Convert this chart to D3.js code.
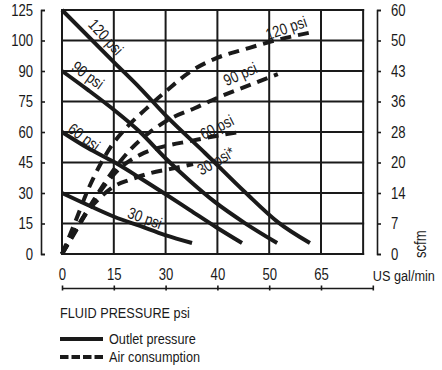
<!DOCTYPE html>
<html>
<head>
<meta charset="utf-8">
<script src="https://cdn.jsdelivr.net/npm/d3@7"></script>
<style>
  html, body { margin: 0; padding: 0; background: #fff; }
  svg { display: block; }
  text { font-family: "Liberation Sans", Arial, sans-serif; fill: #1a1a1a; }
</style>
</head>
<body>
<script>
// ---------- data ----------
const xTicks = [0, 15, 30, 40, 50, 65];          // US gal/min
const xAxisEnd = 80;
const xGridEnd = 77.2;
const yLeftTicks = [0, 15, 30, 45, 60, 75, 90, 100, 125];   // psi
const yRightTicks = [0, 7, 14, 20, 28, 36, 43, 50, 60];     // scfm

// Outlet pressure (psi) vs flow (US gal/min)
const outlet120 = [[0,125],[15.3,92.6],[22.6,81.6],[30.3,67.4],[37.6,49.7],[45.3,30.5],[52.5,15.7],[61.8,5.4]];
const outlet90  = [[0,90],[7.5,80.7],[15.1,70.8],[22.6,60.0],[29.9,47.2],[34.7,35.9],[39.5,25.6],[45.3,15.2],[52.3,5.4]];
const outlet60  = [[0,60],[7.5,52.1],[15.1,45.2],[22.6,37.4],[29.9,29.5],[34.7,21.6],[39.7,13.3],[44.75,5.4]];
const outlet30  = [[0,30],[8.1,23.6],[15.3,18.2],[22.6,13.8],[29.9,9.3],[35.1,5.4]];

// Air consumption (scfm) vs flow (US gal/min)
const air120 = [[0,0],[3.8,7.3],[7.5,14.6],[11.0,19.5],[14.5,24.6],[18.5,29.0],[24.0,33.8],[29.9,38.2],[34.7,42.8],[39.9,46.0],[45.3,48.0],[50.2,49.7],[62.7,52.8]];
const air90  = [[0,0],[4.6,6.4],[9.6,12.9],[14.5,18.1],[19.7,23.3],[25.5,28.0],[31.2,31.7],[35.7,34.3],[39.9,36.8],[46.3,39.8],[52.5,42.3]];
const air60  = [[0,0],[3.8,5.0],[8.1,10.8],[12.5,15.6],[16.8,18.9],[22.6,22.0],[29.9,24.3],[34.7,25.6],[39.5,26.9],[44.4,28.0]];
const air30  = [[0,0],[2.9,4.1],[6.7,9.0],[11.0,12.9],[15.3,15.4],[19.7,16.6],[25.5,17.9],[30.8,18.7],[35.3,19.7]];

const outletSeries = [outlet120, outlet90, outlet60, outlet30];
const airSeries = [air120, air90, air60, air30];
const outletNames = ["120 psi", "90 psi", "60 psi", "30 psi"];
const airNames = ["120 psi", "90 psi", "60 psi", "30 psi*"];

// ---------- layout ----------
const W = 442, H = 370;
const plotLeft = 62, colStep = 51.8;
const plotBottom = 254, rowStep = 30.5;
const narrow = 0.82;   // condensed look

const svg = d3.select("body").append("svg").attr("width", W).attr("height", H);

const xDomain = xTicks.concat([xAxisEnd]);
const x = d3.scaleLinear().domain(xDomain).range(xDomain.map((d, i) => plotLeft + i * colStep));
const yL = d3.scaleLinear().domain(yLeftTicks).range(yLeftTicks.map((d, i) => plotBottom - i * rowStep));
const yR = d3.scaleLinear().domain(yRightTicks).range(yRightTicks.map((d, i) => plotBottom - i * rowStep));

const ink = "#1a1a1a";

// grid
const grid = svg.append("g").attr("stroke", ink).attr("stroke-width", 2);
yLeftTicks.forEach(t => {
  grid.append("line").attr("x1", x(0) - 1).attr("x2", x(xGridEnd) + 1)
    .attr("y1", yL(t)).attr("y2", yL(t));
});
xTicks.concat([xGridEnd]).forEach(t => {
  grid.append("line").attr("x1", x(t)).attr("x2", x(t))
    .attr("y1", yL(0) + 1).attr("y2", yL(125) - 1);
});

// left axis
const leftAxis = svg.append("g").attr("transform", "translate(41,0)")
  .call(d3.axisLeft(yL).tickValues(yLeftTicks).tickSize(-4).tickPadding(8));
// right axis
const rightAxis = svg.append("g").attr("transform", "translate(377,0)")
  .call(d3.axisRight(yR).tickValues(yRightTicks).tickSize(4).tickPadding(10));
[leftAxis, rightAxis].forEach(g => {
  g.select(".domain").attr("stroke", ink).attr("stroke-width", 1.6);
  g.selectAll(".tick line").attr("stroke", ink).attr("stroke-width", 1.6);
  g.selectAll("text").attr("font-size", 16);
});

// bottom axis (labels above the line)
const bottomAxis = svg.append("g").attr("transform", "translate(0,288)")
  .call(d3.axisTop(x).tickValues(xTicks.concat([xAxisEnd])).tickSizeOuter(0).tickSize(0).tickPadding(8)
    .tickFormat(d => d === xAxisEnd ? "" : d));
bottomAxis.select(".domain").attr("stroke", ink).attr("stroke-width", 1.4);
bottomAxis.selectAll(".tick line").attr("stroke", ink).attr("stroke-width", 1.6).attr("y1", -2.5).attr("y2", 2.5);
bottomAxis.selectAll("text").attr("font-size", 16);
[leftAxis, rightAxis, bottomAxis].forEach(g => g.attr("font-family", null).attr("font-size", null));

svg.append("text").attr("transform", `translate(${x(xAxisEnd)},281)`).attr("font-size", 15.5).text("US gal/min");
svg.append("text").attr("transform", "translate(426,258) rotate(-90)").attr("font-size", 16).text("scfm");

// curves
const lineL = d3.line().x(d => x(d[0])).y(d => yL(d[1])).curve(d3.curveMonotoneX);
const lineR = d3.line().x(d => x(d[0])).y(d => yR(d[1])).curve(d3.curveMonotoneX);

svg.append("g").selectAll("path").data(airSeries).join("path")
  .attr("d", lineR).attr("fill", "none").attr("stroke", ink)
  .attr("stroke-width", 4).attr("stroke-dasharray", "11,7");
svg.append("g").selectAll("path").data(outletSeries).join("path")
  .attr("d", lineL).attr("fill", "none").attr("stroke", ink)
  .attr("stroke-width", 4);

// curve labels (anchor in data units, angle in degrees)
const outletLabelPos = [[12.7, 102.9, 47], [7.5, 88.0, 36], [6.4, 57.5, 36], [24.0, 17.7, 20]];
const airLabelPos = [[54.9, 54.1, -19], [44.4, 42.3, -24], [39.9, 29.3, -27], [39.7, 20.4, -30]];
outletNames.forEach((n, i) => {
  const p = outletLabelPos[i];
  svg.append("text").attr("transform", `translate(${x(p[0])},${yL(p[1])}) rotate(${p[2]})`)
    .attr("text-anchor", "middle").attr("dy", "0.35em").attr("font-size", 16).text(n);
});
airNames.forEach((n, i) => {
  const p = airLabelPos[i];
  svg.append("text").attr("transform", `translate(${x(p[0])},${yR(p[1])}) rotate(${p[2]})`)
    .attr("text-anchor", "middle").attr("dy", "0.35em").attr("font-size", 16).text(n);
});

// titles and legend
svg.append("text").attr("transform", "translate(60,318)").attr("font-size", 15.5).text("FLUID PRESSURE psi");
svg.append("line").attr("x1", 60).attr("x2", 103).attr("y1", 339).attr("y2", 339)
  .attr("stroke", ink).attr("stroke-width", 4);
svg.append("text").attr("transform", "translate(109,344)").attr("font-size", 15.5).text("Outlet pressure");
svg.append("line").attr("x1", 60).attr("x2", 103).attr("y1", 357).attr("y2", 357)
  .attr("stroke", ink).attr("stroke-width", 4).attr("stroke-dasharray", "8.5,3");
svg.append("text").attr("transform", "translate(109,362)").attr("font-size", 15.5).text("Air consumption");

// condense every text horizontally (narrow typeface look), keeping its anchor point
svg.selectAll("text").each(function () {
  const t = d3.select(this);
  const x0 = +(t.attr("x") || 0);
  t.attr("x", x0 / narrow);
  t.attr("transform", ((t.attr("transform") || "") + ` scale(${narrow},1)`).trim());
});
</script>
</body>
</html>
